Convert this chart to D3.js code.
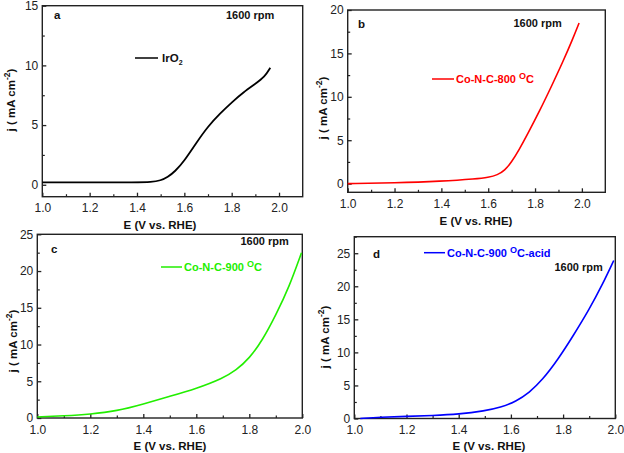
<!DOCTYPE html>
<html><head><meta charset="utf-8">
<script src="https://cdn.jsdelivr.net/npm/d3@7"></script>
<style>
html,body{margin:0;padding:0;background:#fff;}
svg{display:block;font-family:"Liberation Sans",Arial,sans-serif;}
</style></head>
<body>
<svg id="chart" width="624" height="453"></svg>
<script>
// ---- data ----
const irO2E = [1.0, 1.2, 1.4, 1.46, 1.50, 1.53, 1.56, 1.60, 1.65, 1.70, 1.75, 1.80, 1.85, 1.90, 1.94, 1.963];
const irO2J = [0.2, 0.2, 0.2, 0.22, 0.35, 0.65, 1.1, 2.0, 3.5, 4.9, 5.95, 6.9, 7.75, 8.45, 9.05, 9.8];
const co800E = [1.0, 1.2, 1.4, 1.55, 1.60, 1.64, 1.67, 1.70, 1.73, 1.77, 1.82, 1.87, 1.92, 1.96, 1.988];
const co800J = [0.0, 0.08, 0.27, 0.55, 0.72, 1.0, 1.5, 2.5, 3.8, 5.8, 8.4, 11.2, 14.1, 16.6, 18.5];
const co900E = [1.0, 1.1, 1.2, 1.3, 1.4, 1.5, 1.6, 1.70, 1.75, 1.80, 1.85, 1.90, 1.95, 1.997];
const co900J = [0.14, 0.3, 0.52, 0.95, 1.9, 2.95, 4.0, 5.4, 6.5, 8.1, 10.6, 14.0, 17.8, 22.5];
const coAcidE = [1.023, 1.1, 1.2, 1.3, 1.4, 1.5, 1.56, 1.62, 1.67, 1.72, 1.78, 1.84, 1.90, 1.95, 1.994];
const coAcidJ = [0.0, 0.2, 0.32, 0.45, 0.65, 1.15, 1.65, 2.6, 3.9, 5.8, 8.9, 12.6, 16.5, 20.2, 23.9];

const xTicksAB = [1.0, 1.2, 1.4, 1.6, 1.8, 2.0];
const xTicksCD = [1.0, 1.2, 1.4, 1.6, 1.8, 2.0];
const xMinor = [1.1, 1.3, 1.5, 1.7, 1.9];
const yTicksA = [0, 5, 10, 15];
const yTicksB = [0, 5, 10, 15, 20];
const yTicksC = [0, 5, 10, 15, 20, 25];
const yTicksD = [0, 5, 10, 15, 20, 25];
const labels = ["a", "b", "c", "d"];
const seriesNames = ["IrO", "Co-N-C-800 ", "Co-N-C-900 ", "Co-N-C-900 "];
const rpmLabel = "1600 rpm";

// ---- layout ----
const panels = [
  {E: irO2E, J: irO2J, l: 42.3, r: 302.7, t: 5.7, b: 196.7, xd: [1, 2.1], yd: [-1, 15], xt: xTicksAB, yt: yTicksA,
   color: "#000", lab: [54, 19], rpm: [226, 19], leg: [135, 158, 58, 162], width: 1.8,
   xtitle: [160, 229], ytitle: [14.5, 100]},
  {E: co800E, J: co800J, l: 347.7, r: 605.3, t: 10, b: 192.3, xd: [1, 2.1], yd: [-1, 20], xt: xTicksAB, yt: yTicksB,
   color: "#ff0000", lab: [358, 28], rpm: [513.5, 27], leg: [432, 454, 79, 456], width: 1.6,
   xtitle: [476, 225], ytitle: [327, 108]},
  {E: co900E, J: co900J, l: 37.3, r: 302.3, t: 234.3, b: 418, xd: [1, 2], yd: [0, 25], xt: xTicksCD, yt: yTicksC,
   color: "#22ee00", lab: [51, 253], rpm: [240.5, 245], leg: [161, 182, 267, 184], width: 1.6,
   xtitle: [170, 450], ytitle: [16.5, 341]},
  {E: coAcidE, J: coAcidJ, l: 354.3, r: 615.3, t: 236.7, b: 418.5, xd: [1, 2], yd: [0, 27.5], xt: xTicksCD, yt: yTicksD,
   color: "#0000ff", lab: [373, 257.5], rpm: [554.5, 270.5], leg: [424, 445, 252.7, 447], width: 1.6,
   xtitle: [489, 450], ytitle: [329, 337]}
];

const svg = d3.select("#chart");

panels.forEach((p, i) => {
  const x = d3.scaleLinear().domain(p.xd).range([p.l, p.r]);
  const y = d3.scaleLinear().domain(p.yd).range([p.b, p.t]);
  const g = svg.append("g");

  // minor ticks
  const yMinor = p.yt.slice(0, -1).map(v => v + 2.5).concat(p.yd[1] - p.yt[p.yt.length - 1] >= 2.5 ? [p.yt[p.yt.length - 1] + 2.5] : []);
  g.append("g").attr("transform", `translate(0,${p.b})`)
    .call(d3.axisBottom(x).tickValues(xMinor).tickSize(-2.5).tickFormat(""))
    .call(a => a.select(".domain").remove())
    .call(a => a.selectAll("line").attr("stroke", "#222").attr("stroke-width", 1.2));
  g.append("g").attr("transform", `translate(${p.l},0)`)
    .call(d3.axisLeft(y).tickValues(yMinor).tickSize(-2.5).tickFormat(""))
    .call(a => a.select(".domain").remove())
    .call(a => a.selectAll("line").attr("stroke", "#222").attr("stroke-width", 1.2));

  // major ticks
  g.append("g").attr("transform", `translate(0,${p.b})`)
    .call(d3.axisBottom(x).tickValues(p.xt).tickSize(-4).tickPadding(7).tickFormat(d3.format(".1f")))
    .call(a => a.select(".domain").remove())
    .call(a => a.selectAll("line").attr("stroke", "#222").attr("stroke-width", 1.3))
    .call(a => a.selectAll("text").attr("font-size", 12).attr("fill", "#222")
      .attr("font-family", "Liberation Sans, Arial, sans-serif"));
  g.append("g").attr("transform", `translate(${p.l},0)`)
    .call(d3.axisLeft(y).tickValues(p.yt).tickSize(-4).tickPadding(4).tickFormat(d3.format("d")))
    .call(a => a.select(".domain").remove())
    .call(a => a.selectAll("line").attr("stroke", "#222").attr("stroke-width", 1.3))
    .call(a => a.selectAll("text").attr("font-size", 12).attr("fill", "#222")
      .attr("font-family", "Liberation Sans, Arial, sans-serif"));

  // frame
  g.append("rect").attr("x", p.l).attr("y", p.t).attr("width", p.r - p.l).attr("height", p.b - p.t)
    .attr("fill", "none").attr("stroke", "#222").attr("stroke-width", 1.4);

  // curve
  const pts = p.E.map((e, k) => [e, p.J[k]]);
  const line = d3.line().x(d => x(d[0])).y(d => y(d[1])).curve(d3.curveBasis);
  g.append("path").attr("d", line(pts)).attr("fill", "none").attr("stroke", p.color)
    .attr("stroke-width", p.width).attr("stroke-linejoin", "round");

  // panel letter
  g.append("text").attr("x", p.lab[0]).attr("y", p.lab[1]).attr("font-size", 11.5)
    .attr("font-weight", "bold").attr("fill", "#111").text(labels[i]);
  // rpm
  g.append("text").attr("x", p.rpm[0]).attr("y", p.rpm[1]).attr("font-size", 11)
    .attr("font-weight", "bold").attr("fill", "#111").text(rpmLabel);

  // legend
  g.append("line").attr("x1", p.leg[0]).attr("x2", p.leg[1]).attr("y1", p.leg[2]).attr("y2", p.leg[2])
    .attr("stroke", p.color).attr("stroke-width", 1.5);
  const lt = g.append("text").attr("x", p.leg[3]).attr("y", p.leg[2] + 4).attr("font-size", 11)
    .attr("font-weight", "bold").attr("fill", i === 0 ? "#111" : p.color);
  if (i === 0) {
    lt.attr("font-size", 11.5);
    lt.append("tspan").text(seriesNames[i]);
    lt.append("tspan").attr("font-size", 7).attr("dy", 3).text("2");
  } else {
    lt.append("tspan").text(seriesNames[i]);
    lt.append("tspan").attr("font-size", 9).attr("dy", -4).text("O");
    lt.append("tspan").attr("dy", 4).text(i === 3 ? "C-acid" : "C");
  }

  // axis titles
  g.append("text").attr("x", p.xtitle[0]).attr("y", p.xtitle[1]).attr("text-anchor", "middle")
    .attr("font-size", 11.5).attr("font-weight", "bold").attr("fill", "#111").text("E (V vs. RHE)");
  const yt = g.append("text").attr("transform", `translate(${p.ytitle[0]},${p.ytitle[1]}) rotate(-90)`)
    .attr("text-anchor", "middle").attr("font-size", 11.5).attr("font-weight", "bold").attr("fill", "#111");
  yt.append("tspan").text("j ( mA cm");
  yt.append("tspan").attr("font-size", 8.5).attr("dy", -5).text("-2");
  yt.append("tspan").attr("dy", 5).text(")");
});
</script>
</body></html>
